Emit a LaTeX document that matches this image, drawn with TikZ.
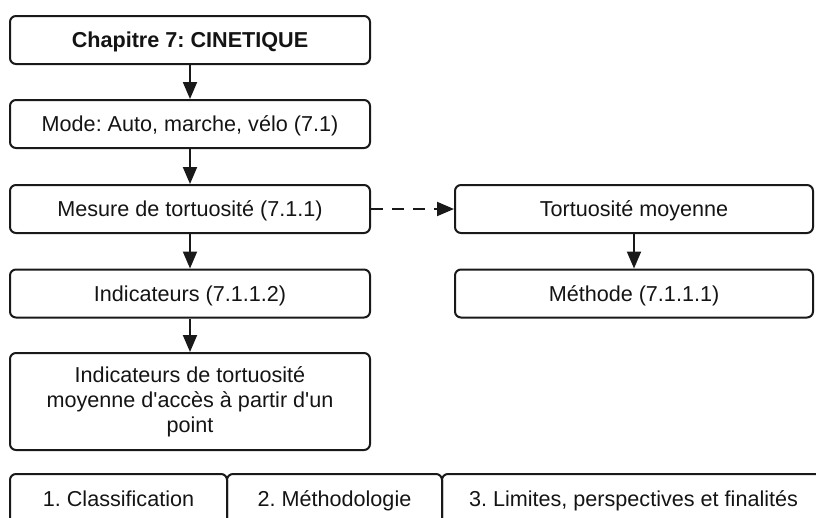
\documentclass[tikz,border=0pt]{standalone}
\usepackage{fontspec}
\setmainfont{Liberation Sans}[Ligatures=TeXOff]
\usetikzlibrary{arrows.meta}
\frenchspacing
\begin{document}
\begin{tikzpicture}[x=1pt,y=-1pt,
  box/.style={draw=black!90, line width=2pt, rounded corners=6pt,
    minimum height=48pt, inner sep=0pt, align=center,
    font=\fontsize{21.6}{25}\selectfont, text=black!92},
  oneline/.style={text height=15.5pt, text depth=0pt},
  lbox/.style={box, minimum width=360pt},
  rbox/.style={box, minimum width=358pt},
  conn/.style={draw=black!90, line width=2pt, -{Triangle[length=17pt,width=14pt]}},
  dconn/.style={conn, dash pattern=on 12pt off 9pt},
  tabline/.style={draw=black!90, line width=2pt, rounded corners=6pt},
  tabtext/.style={inner sep=0pt, anchor=base, font=\fontsize{21.6}{25}\selectfont, text=black!92}]
\useasboundingbox (0,0) rectangle (816,517);
\clip (0,0) rectangle (816,517);

\node[lbox, oneline, font=\bfseries\fontsize{21.6}{25}\selectfont] (b1) at (190,40) {Chapitre 7: CINETIQUE};
\node[lbox, oneline] (b2) at (190,124) {Mode: Auto, marche, vélo (7.1)};
\node[lbox, oneline] (b3) at (190,209) {Mesure de tortuosité (7.1.1)};
\node[lbox, oneline] (b4) at (190,293.5) {Indicateurs (7.1.1.2)};
\node[lbox, minimum height=97pt] (b5) at (190,401.5) {Indicateurs de tortuosité\\moyenne d'accès à partir d'un\\point};

\node[rbox, oneline] (r1) at (634,209) {Tortuosité moyenne};
\node[rbox, oneline] (r2) at (634,293.5) {Méthode (7.1.1.1)};

\draw[conn] (b1) -- (b2);
\draw[conn] (b2) -- (b3);
\draw[conn] (b3) -- (b4);
\draw[conn] (b4) -- (b5);
\draw[conn] (r1) -- (r2);
\draw[dconn] (b3) -- (r1);

\draw[tabline] (10,540) -- (10,474) -- (227,474) -- (227,540);
\draw[tabline] (227,540) -- (227,474) -- (442,474) -- (442,540);
\draw[tabline] (442,540) -- (442,474) -- (825,474) -- (825,540);
\node[tabtext] (t1) at (118.5,506) {1. Classification};
\node[tabtext] (t2) at (334.5,506) {2. Méthodologie};
\node[tabtext] (t3) at (633.5,506) {3. Limites, perspectives et finalités};
\end{tikzpicture}
\end{document}
